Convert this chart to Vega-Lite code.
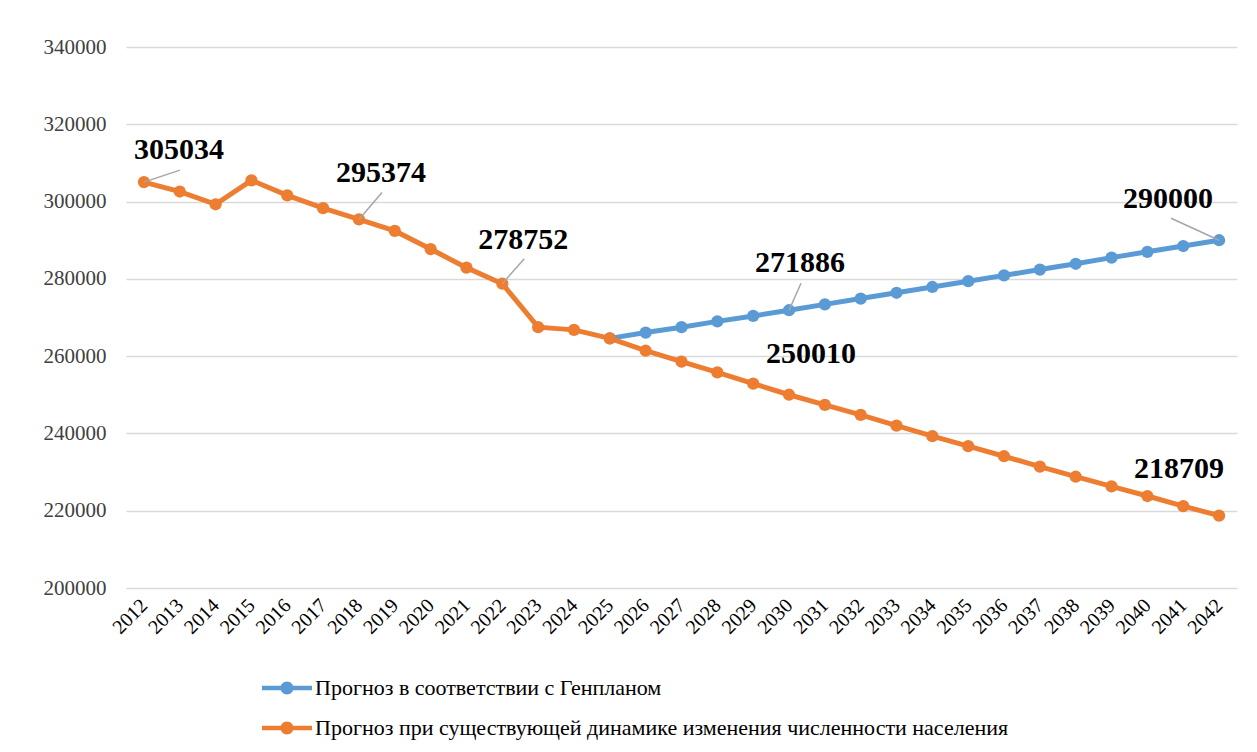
{
  "$schema": "https://vega.github.io/schema/vega-lite/v6.json",
  "width": 1111,
  "height": 541,
  "autosize": "none",
  "padding": {"left": 126, "top": 47, "right": 20, "bottom": 164},
  "background": "white",
  "config": {"view": {"stroke": null}, "font": "Liberation Serif"},
  "datasets": {
    "pop": [
      {"year": 2025, "value": 264600, "series": "Прогноз в соответствии с Генпланом"},
      {"year": 2026, "value": 266100, "series": "Прогноз в соответствии с Генпланом"},
      {"year": 2027, "value": 267500, "series": "Прогноз в соответствии с Генпланом"},
      {"year": 2028, "value": 269000, "series": "Прогноз в соответствии с Генпланом"},
      {"year": 2029, "value": 270400, "series": "Прогноз в соответствии с Генпланом"},
      {"year": 2030, "value": 271886, "series": "Прогноз в соответствии с Генпланом"},
      {"year": 2031, "value": 273400, "series": "Прогноз в соответствии с Генпланом"},
      {"year": 2032, "value": 274900, "series": "Прогноз в соответствии с Генпланом"},
      {"year": 2033, "value": 276400, "series": "Прогноз в соответствии с Генпланом"},
      {"year": 2034, "value": 277900, "series": "Прогноз в соответствии с Генпланом"},
      {"year": 2035, "value": 279400, "series": "Прогноз в соответствии с Генпланом"},
      {"year": 2036, "value": 280900, "series": "Прогноз в соответствии с Генпланом"},
      {"year": 2037, "value": 282400, "series": "Прогноз в соответствии с Генпланом"},
      {"year": 2038, "value": 283900, "series": "Прогноз в соответствии с Генпланом"},
      {"year": 2039, "value": 285500, "series": "Прогноз в соответствии с Генпланом"},
      {"year": 2040, "value": 287000, "series": "Прогноз в соответствии с Генпланом"},
      {"year": 2041, "value": 288500, "series": "Прогноз в соответствии с Генпланом"},
      {"year": 2042, "value": 290000, "series": "Прогноз в соответствии с Генпланом"},
      {"year": 2012, "value": 305034, "series": "Прогноз при существующей динамике изменения численности населения"},
      {"year": 2013, "value": 302600, "series": "Прогноз при существующей динамике изменения численности населения"},
      {"year": 2014, "value": 299300, "series": "Прогноз при существующей динамике изменения численности населения"},
      {"year": 2015, "value": 305500, "series": "Прогноз при существующей динамике изменения численности населения"},
      {"year": 2016, "value": 301600, "series": "Прогноз при существующей динамике изменения численности населения"},
      {"year": 2017, "value": 298300, "series": "Прогноз при существующей динамике изменения численности населения"},
      {"year": 2018, "value": 295374, "series": "Прогноз при существующей динамике изменения численности населения"},
      {"year": 2019, "value": 292400, "series": "Прогноз при существующей динамике изменения численности населения"},
      {"year": 2020, "value": 287700, "series": "Прогноз при существующей динамике изменения численности населения"},
      {"year": 2021, "value": 282900, "series": "Прогноз при существующей динамике изменения численности населения"},
      {"year": 2022, "value": 278752, "series": "Прогноз при существующей динамике изменения численности населения"},
      {"year": 2023, "value": 267500, "series": "Прогноз при существующей динамике изменения численности населения"},
      {"year": 2024, "value": 266800, "series": "Прогноз при существующей динамике изменения численности населения"},
      {"year": 2025, "value": 264600, "series": "Прогноз при существующей динамике изменения численности населения"},
      {"year": 2026, "value": 261400, "series": "Прогноз при существующей динамике изменения численности населения"},
      {"year": 2027, "value": 258600, "series": "Прогноз при существующей динамике изменения численности населения"},
      {"year": 2028, "value": 255800, "series": "Прогноз при существующей динамике изменения численности населения"},
      {"year": 2029, "value": 252900, "series": "Прогноз при существующей динамике изменения численности населения"},
      {"year": 2030, "value": 250010, "series": "Прогноз при существующей динамике изменения численности населения"},
      {"year": 2031, "value": 247400, "series": "Прогноз при существующей динамике изменения численности населения"},
      {"year": 2032, "value": 244800, "series": "Прогноз при существующей динамике изменения численности населения"},
      {"year": 2033, "value": 242000, "series": "Прогноз при существующей динамике изменения численности населения"},
      {"year": 2034, "value": 239300, "series": "Прогноз при существующей динамике изменения численности населения"},
      {"year": 2035, "value": 236700, "series": "Прогноз при существующей динамике изменения численности населения"},
      {"year": 2036, "value": 234100, "series": "Прогноз при существующей динамике изменения численности населения"},
      {"year": 2037, "value": 231400, "series": "Прогноз при существующей динамике изменения численности населения"},
      {"year": 2038, "value": 228800, "series": "Прогноз при существующей динамике изменения численности населения"},
      {"year": 2039, "value": 226300, "series": "Прогноз при существующей динамике изменения численности населения"},
      {"year": 2040, "value": 223800, "series": "Прогноз при существующей динамике изменения численности населения"},
      {"year": 2041, "value": 221200, "series": "Прогноз при существующей динамике изменения численности населения"},
      {"year": 2042, "value": 218709, "series": "Прогноз при существующей динамике изменения численности населения"}
    ]
  },
  "data": {"name": "pop"},
  "encoding": {
    "x": {
      "field": "year", "type": "ordinal",
      "scale": {"type": "point", "padding": 0.5},
      "axis": {"title": null, "domain": false, "ticks": false, "grid": false, "labelAngle": -45, "labelAlign": "right", "labelBaseline": "middle", "labelPadding": 14, "labelFontSize": 20, "labelFont": "Liberation Serif", "labelColor": "#000000"}
    },
    "y": {
      "field": "value", "type": "quantitative",
      "scale": {"domain": [200000, 340000], "nice": false, "zero": false},
      "axis": {"title": null, "domain": false, "ticks": false, "values": [200000, 220000, 240000, 260000, 280000, 300000, 320000, 340000], "format": "d", "labelFontSize": 21, "labelFont": "Liberation Serif", "labelColor": "#404040", "labelPadding": 20, "gridColor": "#d9d9d9", "gridWidth": 1.5}
    }
  },
  "layer": [
    {
      "mark": {"type": "line", "strokeWidth": 5, "point": {"filled": true, "size": 150, "opacity": 1}},
      "encoding": {
        "color": {
          "field": "series", "type": "nominal",
          "scale": {"domain": ["Прогноз в соответствии с Генпланом", "Прогноз при существующей динамике изменения численности населения"], "range": ["#5b9bd5", "#ed7d31"]},
          "legend": {
            "title": null, "orient": "none", "legendX": 136, "legendY": 626, "direction": "vertical",
            "symbolType": "M-1,-0.09H1V0.09H-1Z M0.26,0A0.26,0.26 0 1,1 -0.26,0A0.26,0.26 0 1,1 0.26,0Z",
            "symbolSize": 2500, "symbolStrokeWidth": 0, "clipHeight": 30, "rowPadding": 10,
            "labelFontSize": 22, "labelFont": "Liberation Serif", "labelColor": "#000000", "labelLimit": 0, "labelOffset": 3,
            "encode": {"symbols": {"update": {"fill": {"scale": "color", "field": "value"}, "opacity": {"value": 1}}}}
          }
        }
      }
    },
    {
      "transform": [{"filter": "datum.year == 2012 && datum.value == 305034"}],
      "mark": {"type": "rule", "color": "#a6a6a6", "strokeWidth": 1.5, "x2Offset": 36, "y2Offset": -12},
      "encoding": {"x2": {"field": "year"}, "y2": {"field": "value"}}
    },
    {
      "transform": [{"filter": "datum.year == 2018 && datum.value == 295374"}],
      "mark": {"type": "rule", "color": "#a6a6a6", "strokeWidth": 1.5, "x2Offset": 23, "y2Offset": -27},
      "encoding": {"x2": {"field": "year"}, "y2": {"field": "value"}}
    },
    {
      "transform": [{"filter": "datum.year == 2022 && datum.value == 278752"}],
      "mark": {"type": "rule", "color": "#a6a6a6", "strokeWidth": 1.5, "x2Offset": 22, "y2Offset": -25},
      "encoding": {"x2": {"field": "year"}, "y2": {"field": "value"}}
    },
    {
      "transform": [{"filter": "datum.year == 2030 && datum.value == 271886"}],
      "mark": {"type": "rule", "color": "#a6a6a6", "strokeWidth": 1.5, "x2Offset": 12, "y2Offset": -27},
      "encoding": {"x2": {"field": "year"}, "y2": {"field": "value"}}
    },
    {
      "transform": [{"filter": "datum.year == 2042 && datum.value == 290000"}],
      "mark": {"type": "rule", "color": "#a6a6a6", "strokeWidth": 1.5, "x2Offset": -48, "y2Offset": -22},
      "encoding": {"x2": {"field": "year"}, "y2": {"field": "value"}}
    },
    {
      "transform": [{"filter": "datum.year == 2012 && datum.value == 305034"}],
      "mark": {"type": "text", "fontSize": 30, "fontWeight": "bold", "font": "Liberation Serif", "color": "#000000", "align": "center", "baseline": "alphabetic", "dx": 35, "dy": -23},
      "encoding": {"text": {"field": "value", "type": "quantitative", "format": "d"}}
    },
    {
      "transform": [{"filter": "datum.year == 2018 && datum.value == 295374"}],
      "mark": {"type": "text", "fontSize": 30, "fontWeight": "bold", "font": "Liberation Serif", "color": "#000000", "align": "center", "baseline": "alphabetic", "dx": 22, "dy": -37},
      "encoding": {"text": {"field": "value", "type": "quantitative", "format": "d"}}
    },
    {
      "transform": [{"filter": "datum.year == 2022 && datum.value == 278752"}],
      "mark": {"type": "text", "fontSize": 30, "fontWeight": "bold", "font": "Liberation Serif", "color": "#000000", "align": "center", "baseline": "alphabetic", "dx": 21, "dy": -35},
      "encoding": {"text": {"field": "value", "type": "quantitative", "format": "d"}}
    },
    {
      "transform": [{"filter": "datum.year == 2030 && datum.value == 271886"}],
      "mark": {"type": "text", "fontSize": 30, "fontWeight": "bold", "font": "Liberation Serif", "color": "#000000", "align": "center", "baseline": "alphabetic", "dx": 11, "dy": -38},
      "encoding": {"text": {"field": "value", "type": "quantitative", "format": "d"}}
    },
    {
      "transform": [{"filter": "datum.year == 2030 && datum.value == 250010"}],
      "mark": {"type": "text", "fontSize": 30, "fontWeight": "bold", "font": "Liberation Serif", "color": "#000000", "align": "center", "baseline": "alphabetic", "dx": 22, "dy": -32},
      "encoding": {"text": {"field": "value", "type": "quantitative", "format": "d"}}
    },
    {
      "transform": [{"filter": "datum.year == 2042 && datum.value == 290000"}],
      "mark": {"type": "text", "fontSize": 30, "fontWeight": "bold", "font": "Liberation Serif", "color": "#000000", "align": "center", "baseline": "alphabetic", "dx": -51, "dy": -32},
      "encoding": {"text": {"field": "value", "type": "quantitative", "format": "d"}}
    },
    {
      "transform": [{"filter": "datum.year == 2042 && datum.value == 218709"}],
      "mark": {"type": "text", "fontSize": 30, "fontWeight": "bold", "font": "Liberation Serif", "color": "#000000", "align": "center", "baseline": "alphabetic", "dx": -40, "dy": -38},
      "encoding": {"text": {"field": "value", "type": "quantitative", "format": "d"}}
    }
  ]
}
